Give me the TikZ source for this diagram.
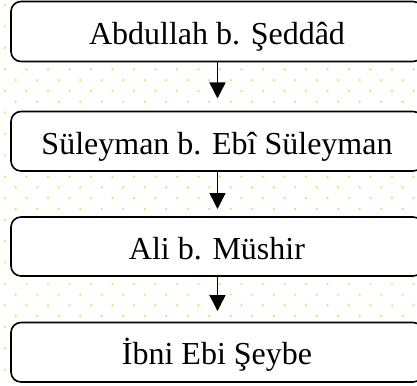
\documentclass[tikz,border=0pt]{standalone}
\usepackage{fontspec}
\setmainfont{Liberation Serif}
\usetikzlibrary{arrows.meta}
\definecolor{dotcol}{RGB}{255,212,95}
\tikzset{
  namebox/.style={draw=black, line width=1.6pt, rounded corners=10pt, fill=white},
  nametext/.style={anchor=base, inner sep=0pt, font=\fontsize{32}{36}\selectfont},
  flowarrow/.style={line width=1.5pt, -{Triangle[width=16pt,length=16pt]}, shorten >=0pt},
}
\begin{document}
\begin{tikzpicture}[x=1pt,y=-1pt]
\useasboundingbox (0,0) rectangle (417,385);
\clip (0,0) rectangle (417,385);
\fill[white] (0,0) rectangle (417,385);
% dotted background
\foreach \j in {0,...,35}{
  \foreach \i in {0,...,38}{
    \pgfmathtruncatemacro{\dotpar}{mod(\i+\j,2)}
    \ifnum\dotpar=0
      \fill[dotcol] ({5+10.75*\i},{5+10.73*\j}) circle (1.2pt);
    \fi
  }
}
% boxes
\draw[namebox] (11,1.5) rectangle (423,61.5);
\draw[namebox] (11,111.5) rectangle (423,171);
\draw[namebox] (11,217) rectangle (423,276);
\draw[namebox] (11,322.5) rectangle (423,382);
\coordinate (b1s) at (217.5,61.5);
\coordinate (b2n) at (217.5,98.5);
\coordinate (b2s) at (217.5,171);
\coordinate (b3n) at (217.5,209);
\coordinate (b3s) at (217.5,276);
\coordinate (b4n) at (217.5,311);
\node[nametext] (t1) at (217,44.5) {Abdullah b. Şeddâd};
\node[nametext] (t2) at (217,154.5) {Süleyman b. Ebî Süleyman};
\node[nametext] (t3) at (217,259.5) {Ali b. Müshir};
\node[nametext] (t4) at (217,364) {İbni Ebi Şeybe};
\draw[flowarrow] (b1s) -- (b2n);
\draw[flowarrow] (b2s) -- (b3n);
\draw[flowarrow] (b3s) -- (b4n);
\end{tikzpicture}
\end{document}
